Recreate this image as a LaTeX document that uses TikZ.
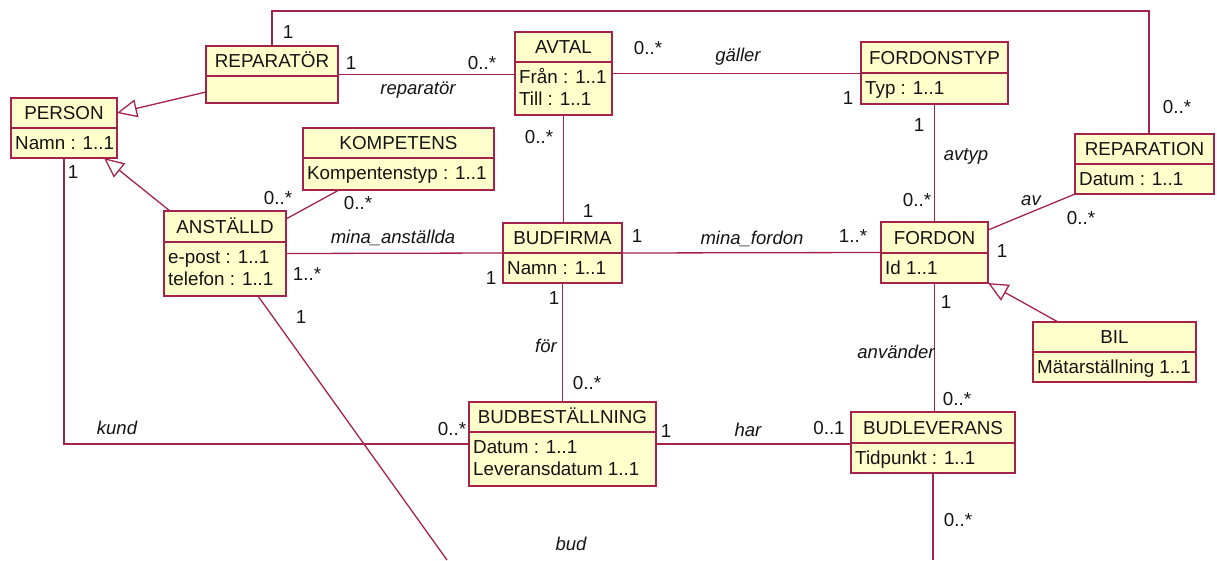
\documentclass[tikz,border=0pt]{standalone}
\usepackage{fontspec}
\setmainfont{Liberation Sans}
\usetikzlibrary{arrows.meta,calc}
\definecolor{umlline}{RGB}{165,35,75}
\definecolor{umlfill}{RGB}{255,255,204}
\definecolor{umltext}{RGB}{20,20,20}
\tikzset{
 classbox/.style={draw=umlline, fill=umlfill, line width=1.5pt, outer sep=0pt, inner sep=0pt, rectangle},
 divline/.style={draw=umlline, line width=1.5pt},
 ctitle/.style={anchor=base, inner sep=0pt, text=umltext, font=\fontsize{18.8}{22}\selectfont},
 cattr/.style={anchor=base west, inner sep=0pt, text=umltext, font=\fontsize{18.8}{22}\selectfont},
 assoc/.style={draw=umlline, line width=1.3pt},
 gen/.style={assoc, -{Triangle[open, length=20pt, width=18pt]}},
 mult/.style={inner sep=0pt, text=umltext, font=\fontsize{18.8}{22}\selectfont},
 role/.style={inner sep=0pt, text=umltext, font=\fontsize{18.5}{22}\selectfont\itshape},
}
\newcommand\umlclass[8]{%
 \node[classbox, anchor=north west, minimum width={(#4)-(#2)}, minimum height={(#6)-(#3)}] (#1) at (#2,#3) {};
 \draw[divline] (#1.west |- 0,#5) -- (#1.east |- 0,#5);
 \node[ctitle] (#1-title) at ({(#2+#4)/2},{#5-8.5}) {#7};
 \foreach \a [count=\i] in {#8} {\node[cattr] (#1-attr\i) at ({#2+4},{#5+21.5+22*(\i-1)}) {\a};}
}
\newcommand\mlbl[4]{\node[mult] (#1) at (#2,#3) {#4};}
\newcommand\rlbl[4]{\node[role] (#1) at (#2,#3) {#4};}
\begin{document}
\begin{tikzpicture}[x=1pt,y=-1pt]
\useasboundingbox (0,0) rectangle (1217,560);
% classes
\umlclass{rep}{206}{46}{338}{76}{103}{REPARATÖR}{}
\umlclass{person}{11}{98}{117}{128}{158}{PERSON}{Namn : 1..1}
\umlclass{avtal}{515}{32}{612}{62}{115}{AVTAL}{Från : 1..1, Till : 1..1}
\umlclass{ftyp}{861}{42}{1008}{73}{104}{FORDONSTYP}{Typ : 1..1}
\umlclass{repn}{1075}{134}{1214}{164}{194}{REPARATION}{Datum : 1..1}
\umlclass{komp}{303}{128}{494}{158}{190}{KOMPETENS}{Kompentenstyp : 1..1}
\umlclass{anst}{164}{211}{286}{242}{296}{ANSTÄLLD}{e-post : 1..1, telefon : 1..1}
\umlclass{budf}{503}{223}{622}{253}{283}{BUDFIRMA}{Namn : 1..1}
\umlclass{fordon}{881}{222}{988}{253}{283}{FORDON}{Id 1..1}
\umlclass{bil}{1033}{322}{1196}{352}{382}{BIL}{Mätarställning 1..1}
\umlclass{bbest}{469}{402}{656}{432}{486}{BUDBESTÄLLNING}{Datum : 1..1, Leveransdatum 1..1}
\umlclass{blev}{851}{412}{1015}{443}{473}{BUDLEVERANS}{Tidpunkt : 1..1}
% connectors
\draw[assoc] (rep.north) -- (rep.north |- 0,11) -| ($(repn.north)+(4.5,0)$);
\draw[assoc] (rep.east) -- (avtal.west |- rep.east);
\draw[gen] (rep.west |- 0,92) -- (person.east |- 0,113);
\draw[gen] (anst.north west -| 170,0) -- (person.south -| 104,0);
\draw[assoc] (person.south) |- (bbest.west);
\draw[assoc] (avtal.east) -- (ftyp.west |- avtal.east);
\draw[assoc] (avtal.south) -- (budf.north -| avtal.south);
\draw[assoc] (ftyp.south) -- (fordon.north);
\draw[assoc] (repn.south west) -- (fordon.east |- 0,230);
\draw[assoc] (komp.south -| 339,0) -- (anst.east |- 0,219);
\draw[assoc] (anst.east) -- (budf.west);
\draw[assoc] (budf.east) -- (fordon.west);
\draw[assoc] (budf.south) -- (bbest.north);
\draw[assoc] (fordon.south) -- (blev.north -| fordon.south);
\draw[gen] (bil.north -| 1058,0) -- (fordon.south east);
\draw[assoc] (bbest.east) -- (blev.west |- bbest.east);
\coordinate (blevend) at (933,560);
\draw[assoc] (blev.south) -- (blevend);
\coordinate (budend) at (447,560);
\draw[assoc] (anst.south -| 258,0) -- (budend);
% multiplicities and roles
\mlbl{m1}{288}{32}{1}
\mlbl{m2}{351}{63}{1}
\rlbl{r1}{418}{90}{reparatör}
\mlbl{m3}{482}{63}{0..*}
\mlbl{m4}{648}{48}{0..*}
\rlbl{r2}{738}{57}{gäller}
\mlbl{m5}{539}{137}{0..*}
\mlbl{m6}{848}{98}{1}
\mlbl{m7}{919}{125}{1}
\rlbl{r3}{966}{156}{avtyp}
\mlbl{m8}{1177}{107}{0..*}
\mlbl{m9}{917}{200}{0..*}
\rlbl{r4}{1031}{201}{av}
\mlbl{m10}{1081}{218}{0..*}
\mlbl{m11}{1002}{251}{1}
\mlbl{m12}{853}{236}{1..*}
\mlbl{m13}{946}{302}{1}
\rlbl{r5}{896}{352}{använder}
\mlbl{m14}{73}{172}{1}
\mlbl{m15}{278}{198}{0..*}
\mlbl{m16}{358}{203}{0..*}
\rlbl{r6}{393}{238}{mina\_anställda}
\mlbl{m17}{307}{274}{1..*}
\mlbl{m18}{301}{317}{1}
\mlbl{m19}{588}{211}{1}
\mlbl{m20}{491}{278}{1}
\mlbl{m21}{637}{236}{1}
\rlbl{r7}{752}{239}{mina\_fordon}
\mlbl{m22}{554}{298}{1}
\rlbl{r8}{546}{346}{för}
\mlbl{m23}{587}{383}{0..*}
\rlbl{r9}{117}{428}{kund}
\mlbl{m24}{452}{429}{0..*}
\mlbl{m25}{666}{431}{1}
\rlbl{r10}{748}{430}{har}
\rlbl{r11}{571}{544}{bud}
\mlbl{m26}{829}{428}{0..1}
\mlbl{m27}{957}{399}{0..*}
\mlbl{m28}{958}{520}{0..*}
\end{tikzpicture}
\end{document}
